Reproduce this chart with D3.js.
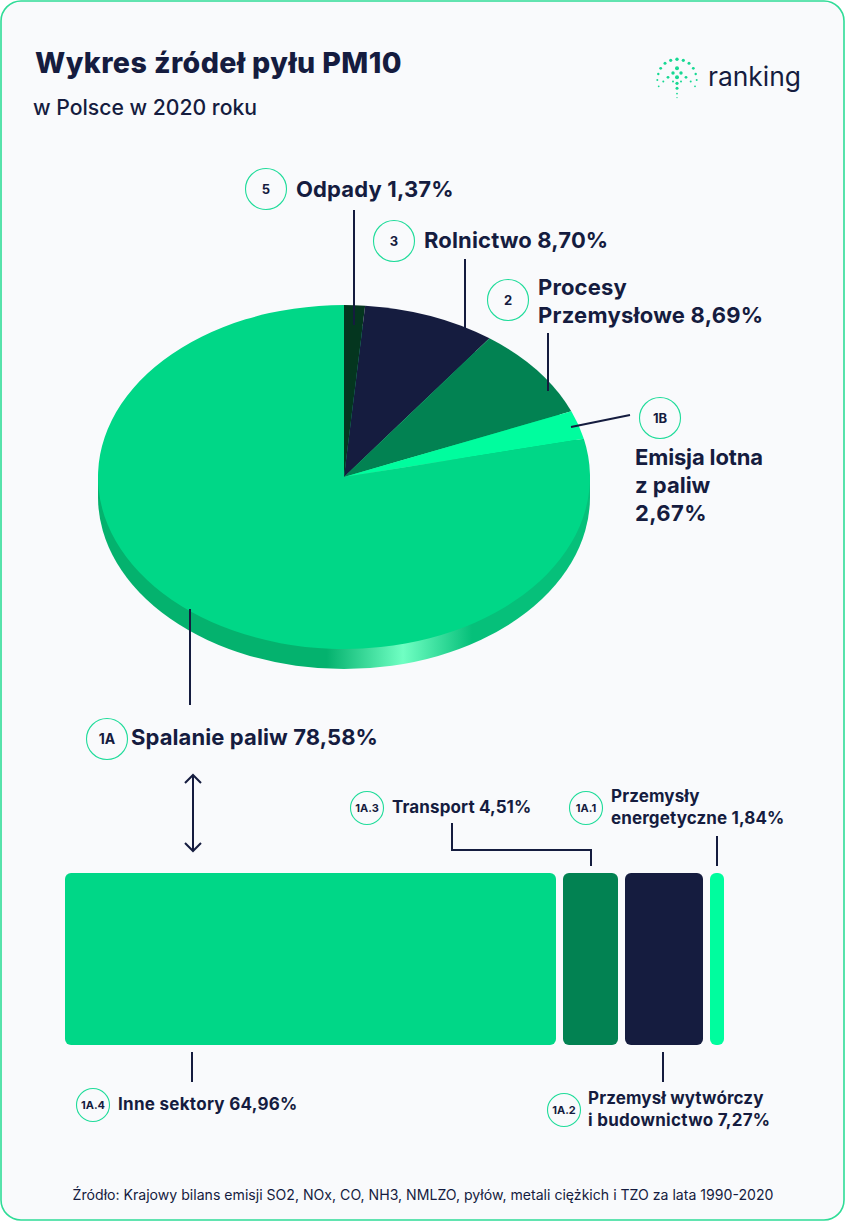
<!DOCTYPE html>
<html><head><meta charset="utf-8">
<script src="https://cdn.jsdelivr.net/npm/d3@7"></script>
<style>html,body{margin:0;padding:0;background:#fff}svg{display:block}text{font-family:Inter,sans-serif;fill:#151c3f}</style>
</head><body><div id="c"></div>
<script>
const pieCategories=["Odpady","Rolnictwo","Procesy Przemysłowe","Emisja lotna z paliw","Spalanie paliw"];
const pieValues=[1.37,8.70,8.69,2.67,78.58];
const pieColors=["#04361f","#151c3f","#028252","#00fd9e","#00d787"];
const barCategories=["Inne sektory","Transport","Przemysł wytwórczy i budownictwo","Przemysły energetyczne"];
const barValues=[64.96,4.51,7.27,1.84];
const barColors=["#00d787","#028252","#151c3f","#00fd9e"];

const W=845,H=1221;
const svg=d3.select("#c").append("svg").attr("width",W).attr("height",H);
const defs=svg.append("defs");
svg.append("rect").attr("x",1).attr("y",1).attr("width",W-2).attr("height",H-2).attr("rx",20)
 .attr("fill","#f9fafc").attr("stroke","#2fdc97").attr("stroke-width",1.6);

function txt(x,y,s,size,weight,anchor,ls){
 return svg.append("text").attr("x",x).attr("y",y).text(s).attr("font-size",size).attr("font-weight",weight||700)
  .attr("text-anchor",anchor||"start").attr("letter-spacing",ls||0);
}
txt(35,73,"Wykres źródeł pyłu PM10",28.6,800,"start",.42);
txt(33,115,"w Polsce w 2020 roku",21.2,500);
txt(423,1200,"Źródło: Krajowy bilans emisji SO2, NOx, CO, NH3, NMLZO, pyłów, metali ciężkich i TZO za lata 1990-2020",14.1,400,"middle").attr("fill","#3b4058");

// logo
const lg=svg.append("g");
const logoDots=[[0,0,1.7],[-6.3,1,1.6],[6.3,1,1.6],[-12,4,1.5],[12,4,1.5],[-16.3,9,1.4],[16.3,9,1.4],[-18.7,14.7,1.2],[18.7,14.7,1.2],[-19.7,20.7,1],[19.7,20.7,1],[-18.3,27,.9],[18,27,.9],
 [0,9,2],[-4,13.7,1.7],[4,13.7,1.7],[0,18,2],[-9,18,1.4],[9,18,1.4],[-13.7,22.3,1],[13.7,22.3,1],[-4,22.3,1],[4,22.3,1],[0,24,1.6],[0,29,1.5],[0,34.3,.9],[0,38.3,.7]];
lg.selectAll("circle").data(logoDots).join("circle").attr("cx",d=>677+d[0]).attr("cy",d=>59.3+d[1])
 .attr("r",d=>d[2]).attr("fill","#17d893");
txt(708,86,"ranking",26.4,400).attr("fill","#1e2547");

// pie
const cx=344,cy=477,rx=246,ry=172,depth=20;
const grad=defs.append("linearGradient").attr("id","side").attr("gradientUnits","userSpaceOnUse")
 .attr("x1",cx-rx).attr("x2",cx+rx).attr("y1",0).attr("y2",0);
[[0,"#04b26e"],[.465,"#04b26e"],[.62,"#70ffc3"],[.76,"#06c07a"],[1,"#06c07a"]].forEach(s=>grad.append("stop").attr("offset",s[0]).attr("stop-color",s[1]));
const pie=d3.pie().sort(null).value(d=>d);
const arcs=pie(pieValues);
const arc=d3.arc().innerRadius(0).outerRadius(rx);
svg.append("ellipse").attr("cx",cx).attr("cy",cy+depth).attr("rx",rx).attr("ry",ry).attr("fill","url(#side)");
svg.append("rect").attr("x",cx-rx).attr("y",cy).attr("width",2*rx).attr("height",depth).attr("fill","url(#side)");
svg.append("g").attr("transform",`translate(${cx},${cy}) scale(1,${ry/rx})`)
 .selectAll("path").data(arcs).join("path").attr("d",arc).attr("fill",(d,i)=>pieColors[i]);

// leaders
function line(pts,w){svg.append("path").attr("d",d3.line()(pts)).attr("fill","none").attr("stroke","#151c3f").attr("stroke-width",w||2);}
function badge(x,y,r,s,size){
 svg.append("circle").attr("cx",x).attr("cy",y).attr("r",r).attr("fill","none").attr("stroke","#1fdc9a").attr("stroke-width",1.1);
 txt(x,y+size*.36,s,size,700,"middle");
}
line([[354,210],[354,325]]);
line([[465,259],[465,328]]);
line([[548,333],[548,391]]);
line([[571,427],[630,415]]);
line([[190,609],[190,705]]);
badge(266,189,20.5,"5",13);
badge(394,241,20.5,"3",13);
badge(508,300,20.5,"2",13);
badge(660,418,20.5,"1B",13);
badge(107,739,20.5,"1A",14);
const lab=22,ls1=.15;
txt(296,197,"Odpady 1,37%",lab,700,"start",ls1);
txt(424,248,"Rolnictwo 8,70%",lab,700,"start",ls1);
txt(538,295,"Procesy",lab,700,"start",ls1);
txt(538,323,"Przemysłowe 8,69%",lab,700,"start",.25);
txt(635,465,"Emisja lotna",lab,700,"start",-.15);
txt(635,493,"z paliw",lab,700,"start",0);
txt(635,521,"2,67%",lab,700,"start",.4);
txt(131,745,"Spalanie paliw 78,58%",lab,700,"start",.1);

// double arrow
line([[193,776],[193,850]],2);
line([[185,783],[193,775],[201,783]],2);
line([[185,843],[193,851],[201,843]],2);

// bar: the reference does not draw widths proportionally, so the scale is piecewise
const x=d3.scaleLinear().domain([0,1.84,4.51,7.27,64.96]).range([0,14,55,78,491]);
const gap=7,bx0=65,by=873,bh=172;
let cum=bx0;
const bars=barValues.map(v=>{const o={v,x:cum,w:x(v)};cum+=x(v)+gap;return o;});
svg.append("g").selectAll("rect").data(bars).join("rect").attr("x",d=>d.x).attr("y",by).attr("width",d=>d.w).attr("height",bh)
 .attr("rx",d=>Math.min(6,d.w/2)).attr("fill",(d,i)=>barColors[i]);

line([[452,823],[452,850],[591,850],[591,866]]);
line([[717,836],[717,866]]);
line([[192,1052],[192,1082]]);
line([[663,1052],[663,1082]]);
badge(367,808,16.5,"1A.3",11);
badge(586,808,16.5,"1A.1",11);
badge(93,1105,16.5,"1A.4",11);
badge(564,1110,16.5,"1A.2",11);
const lab2=17,ls2=.12;
txt(392,813,"Transport 4,51%",lab2,700,"start",ls2);
txt(611,802,"Przemysły",lab2,700,"start",ls2);
txt(611,824,"energetyczne 1,84%",lab2,700,"start",ls2);
txt(118,1110,"Inne sektory 64,96%",lab2,700,"start",.28);
txt(588,1104,"Przemysł wytwórczy",lab2,700,"start",ls2);
txt(588,1126,"i budownictwo 7,27%",lab2,700,"start",.28);
</script></body></html>
